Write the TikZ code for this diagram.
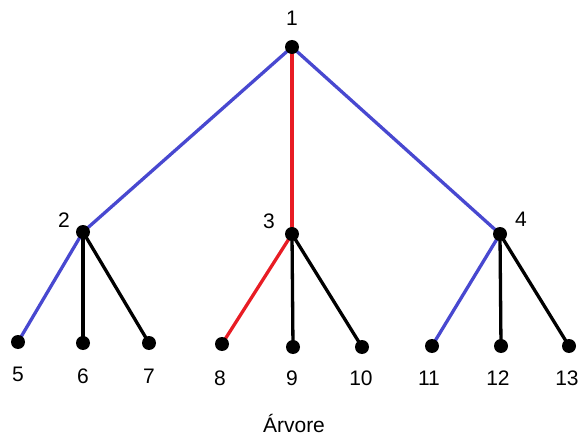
\documentclass[tikz,border=0pt]{standalone}
\usepackage{fontspec}
\setmainfont{Liberation Sans}
\definecolor{edgeblue}{RGB}{72,72,208}
\definecolor{edgered}{RGB}{232,28,36}
\begin{document}
\begin{tikzpicture}[x=1pt, y=-1pt, line width=3.3pt,
    every node/.style={font=\fontsize{21}{24}\selectfont, inner sep=0pt},
    blueedge/.style={edgeblue},
    rededge/.style={edgered},
    blackedge/.style={black}]
\useasboundingbox (0,0) rectangle (582,436);

% vertices
\coordinate (n1) at (292,47);
\coordinate (n2) at (83,232);
\coordinate (n3) at (292,234);
\coordinate (n4) at (500,234);
\coordinate (n5) at (18,342);
\coordinate (n6) at (83,343);
\coordinate (n7) at (149,343);
\coordinate (n8) at (222,344);
\coordinate (n9) at (293,347);
\coordinate (n10) at (362,347);
\coordinate (n11) at (432,346);
\coordinate (n12) at (501,346);
\coordinate (n13) at (569,346);

% arestas
\draw[blueedge] (n1) -- (n2);
\draw[rededge] (n1) -- (n3);
\draw[blueedge] (n1) -- (n4);
\draw[blueedge] (n2) -- (n5);
\draw[blackedge] (n2) -- (n6);
\draw[blackedge] (n2) -- (n7);
\draw[rededge] (n3) -- (n8);
\draw[blackedge] (n3) -- (n9);
\draw[blackedge] (n3) -- (n10);
\draw[blueedge] (n4) -- (n11);
\draw[blackedge] (n4) -- (n12);
\draw[blackedge] (n4) -- (n13);

% pontos
\foreach \v in {n1,n2,n3,n4,n5,n6,n7,n8,n9,n10,n11,n12,n13}
  \fill[black] (\v) circle (7pt);

% rotulos
\node (l1) at (292,18) {1};
\node (l2) at (64,220) {2};
\node (l3) at (269,221) {3};
\node (l4) at (521,219) {4};
\node (l5) at (18,374) {5};
\node (l6) at (83,376) {6};
\node (l7) at (149,376) {7};
\node (l8) at (220,378) {8};
\node (l9) at (292,378) {9};
\node (l10) at (361,378) {10};
\node (l11) at (429,378) {11};
\node (l12) at (498,378) {12};
\node (l13) at (567,378) {13};

\node (title) at (294,423) {Árvore};
\end{tikzpicture}
\end{document}
